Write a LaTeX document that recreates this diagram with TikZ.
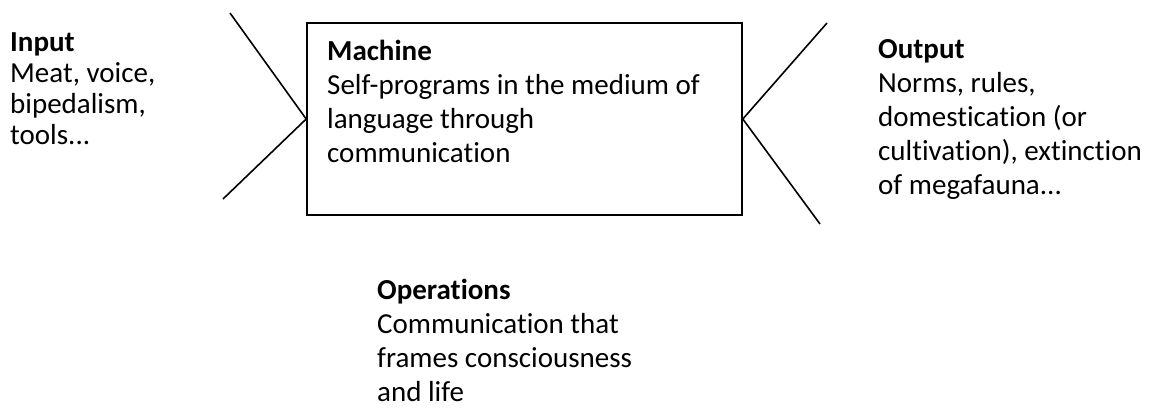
\documentclass[tikz,border=0pt]{standalone}
\usepackage{fontspec}
\setmainfont[Ligatures=NoCommon]{Carlito}
\begin{document}
\begin{tikzpicture}[x=1pt,y=-1pt,
  txt/.style={anchor=base west,inner sep=0pt,align=left,font=\fontsize{29}{34}\selectfont},
  ln/.style={line width=1.6pt,black}]
\useasboundingbox (0,0) rectangle (1151,410);
\node[draw,line width=1.6pt,minimum width=435pt,minimum height=192pt,inner sep=0pt] (machine) at (524.5,119) {};
\node[txt] (machtxt) at (327,162) {\textbf{Machine}\\Self-programs in the medium of\\language through\\communication};
\node[txt,font=\fontsize{29}{31}\selectfont] (input) at (10,144) {\textbf{Input}\\Meat, voice,\\bipedalism,\\tools...};
\node[txt] (output) at (878,194) {\textbf{Output}\\Norms, rules,\\domestication (or\\cultivation), extinction\\of megafauna...};
\node[txt] (ops) at (377,401) {\textbf{Operations}\\Communication that\\frames consciousness\\and life};
\coordinate (inTop) at (230,13);
\coordinate (inBot) at (223,199);
\coordinate (outTop) at (827,23);
\coordinate (outBot) at (820,224);
\draw[ln] (inTop) -- (machine.west) -- (inBot);
\draw[ln] (outTop) -- (machine.east) -- (outBot);
\end{tikzpicture}
\end{document}
